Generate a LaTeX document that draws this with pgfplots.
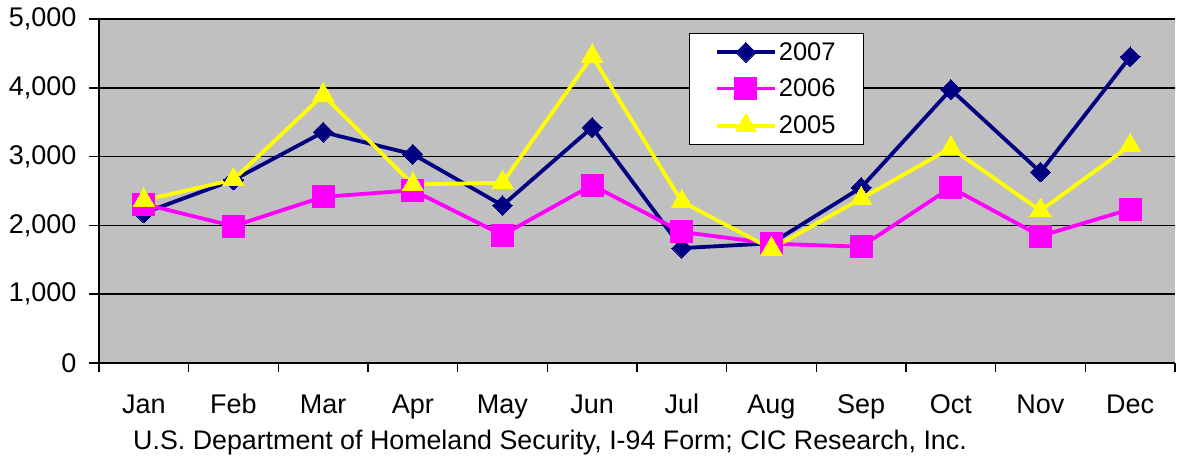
\documentclass[border=0pt]{standalone}
\usepackage{pgfplots}
\pgfplotsset{compat=1.18}
\usepackage{fontspec}
\setmainfont{Liberation Sans}
\definecolor{navyc}{HTML}{000080}
\definecolor{magc}{HTML}{FF00FF}
\definecolor{yelc}{HTML}{FFFF00}
\definecolor{bgc}{HTML}{C0C0C0}
\begin{document}
\begin{tikzpicture}
\path[use as bounding box] (-99pt,-94pt) rectangle (1078pt,363pt);
\begin{axis}[
  scale only axis,
  width=1076pt, height=344pt,
  xmin=-0.5, xmax=11.5,
  ymin=0, ymax=5000,
  axis background/.style={fill=bgc},
  axis x line*=bottom, axis y line*=left,
  axis line style={line width=1.8pt,-},
  ytick={0,1000,...,5000},
  ymajorgrids,
  grid style={black, line width=1.6pt},
  major tick style={black, line width=1.5pt},
  minor tick style={black, line width=1.5pt},
  tick align=outside,
  major tick length=10pt,
  xtick={0,...,11},
  xticklabels={Jan,Feb,Mar,Apr,May,Jun,Jul,Aug,Sep,Oct,Nov,Dec},
  major x tick style={draw=none},
  minor xtick={-0.5,0.5,...,11.5},
  minor tick length=9pt,
  ticklabel style={font=\fontsize{27}{31}\selectfont},
  xticklabel style={yshift=-18pt, text height=19pt, text depth=6pt},
  yticklabel style={xshift=-9pt},
  scaled y ticks=false,
  /pgf/number format/.cd, 1000 sep={,}, assume math mode=true,
  /pgfplots/.cd,
  legend style={at={(0.548,0.959)}, anchor=north west, draw=black, line width=0.8pt,
    font=\fontsize{25.5}{29}\selectfont, inner xsep=26pt, inner ysep=7pt,
    row sep=13pt, cells={anchor=west}},
  legend image code/.code={\draw[mark repeat=2,mark phase=2,#1] plot coordinates {(0pt,0pt) (29pt,0pt) (58pt,0pt)};},
]
\addplot[navyc, line width=3.8pt, mark=square*, mark size=7pt, mark options={rotate=45, fill=navyc, draw=navyc, line width=0pt}]
  coordinates {(0,2180) (1,2660) (2,3355) (3,3035) (4,2290) (5,3425) (6,1670) (7,1740) (8,2550) (9,3975) (10,2775) (11,4450)};
\addlegendentry{2007}
\addplot[magc, line width=3.8pt, mark=square*, mark size=11pt, mark options={fill=magc, draw=magc, line width=0pt}]
  coordinates {(0,2310) (1,1990) (2,2415) (3,2510) (4,1860) (5,2585) (6,1905) (7,1735) (8,1690) (9,2550) (10,1845) (11,2235)};
\addlegendentry{2006}
\addplot[yelc, line width=3.8pt, mark=triangle*, mark size=12.5pt, mark options={fill=yelc, draw=yelc, line width=0pt}]
  coordinates {(0,2365) (1,2665) (2,3895) (3,2595) (4,2620) (5,4460) (6,2345) (7,1660) (8,2390) (9,3125) (10,2215) (11,3160)};
\addlegendentry{2005}
\end{axis}
\node[font=\fontsize{26.8}{30}\selectfont, anchor=base] at (451pt,-87pt) {U.S. Department of Homeland Security, I-94 Form; CIC Research, Inc.};
\end{tikzpicture}
\end{document}
